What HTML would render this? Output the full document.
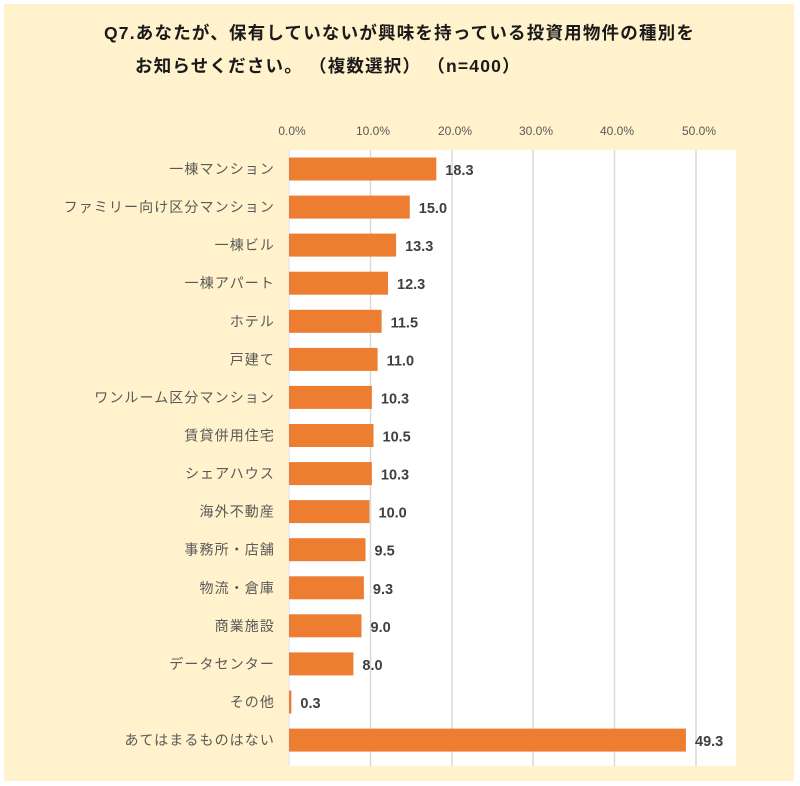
<!DOCTYPE html>
<html><head><meta charset="utf-8"><style>
body{margin:0;background:#fff;}
</style></head><body>
<svg width="800" height="781" xmlns="http://www.w3.org/2000/svg" font-family="'Liberation Sans','Noto Sans CJK JP',sans-serif">
<rect x="4" y="4" width="790" height="777" fill="#FFF2CC"/>
<text x="104" y="39" font-size="17.5" font-weight="bold" fill="#1a1a1a" letter-spacing="1.2">Q7.あなたが、保有していないが興味を持っている投資用物件の種別を</text>
<text x="135" y="72" font-size="17.5" font-weight="bold" fill="#1a1a1a" letter-spacing="1.2">お知らせください。 （複数選択） （n=400）</text>
<rect x="288" y="150" width="448" height="616" fill="#fff"/>
<g stroke="#d9d9d9" stroke-width="1.5">
<line x1="370.5" y1="150" x2="370.5" y2="766"/><line x1="452" y1="150" x2="452" y2="766"/><line x1="533" y1="150" x2="533" y2="766"/><line x1="614.5" y1="150" x2="614.5" y2="766"/><line x1="696" y1="150" x2="696" y2="766"/>
</g>
<line x1="289" y1="150" x2="289" y2="766" stroke="#d9d9d9"/>
<g font-size="12" fill="#595959" text-anchor="middle">
<text x="292" y="135">0.0%</text><text x="373" y="135">10.0%</text><text x="455" y="135">20.0%</text><text x="536" y="135">30.0%</text><text x="617" y="135">40.0%</text><text x="699" y="135">50.0%</text>
</g>
<g fill="#ED7D31">
<rect x="289" y="157.5" width="147.3" height="23"/>
<rect x="289" y="195.6" width="120.8" height="23"/>
<rect x="289" y="233.6" width="107.1" height="23"/>
<rect x="289" y="271.7" width="99" height="23"/>
<rect x="289" y="309.8" width="92.6" height="23"/>
<rect x="289" y="347.9" width="88.6" height="23"/>
<rect x="289" y="385.9" width="82.9" height="23"/>
<rect x="289" y="424" width="84.5" height="23"/>
<rect x="289" y="462.1" width="82.9" height="23"/>
<rect x="289" y="500.1" width="80.5" height="23"/>
<rect x="289" y="538.2" width="76.5" height="23"/>
<rect x="289" y="576.3" width="74.9" height="23"/>
<rect x="289" y="614.3" width="72.5" height="23"/>
<rect x="289" y="652.4" width="64.4" height="23"/>
<rect x="289" y="690.5" width="2.4" height="23"/>
<rect x="289" y="728.6" width="396.9" height="23"/>
</g>
<g font-size="14" fill="#595959" text-anchor="end" letter-spacing="1.1">
<text x="275" y="174">一棟マンション</text>
<text x="275" y="212.1">ファミリー向け区分マンション</text>
<text x="275" y="250.1">一棟ビル</text>
<text x="275" y="288.2">一棟アパート</text>
<text x="275" y="326.3">ホテル</text>
<text x="275" y="364.4">戸建て</text>
<text x="275" y="402.4">ワンルーム区分マンション</text>
<text x="275" y="440.5">賃貸併用住宅</text>
<text x="275" y="478.6">シェアハウス</text>
<text x="275" y="516.6">海外不動産</text>
<text x="275" y="554.7">事務所・店舗</text>
<text x="275" y="592.8">物流・倉庫</text>
<text x="275" y="630.8">商業施設</text>
<text x="275" y="668.9">データセンター</text>
<text x="275" y="707">その他</text>
<text x="275" y="745.1">あてはまるものはない</text>
</g>
<g font-size="14.5" font-weight="bold" fill="#404040">
<text x="445.3" y="175">18.3</text>
<text x="418.8" y="213.1">15.0</text>
<text x="405.1" y="251.1">13.3</text>
<text x="397" y="289.2">12.3</text>
<text x="390.6" y="327.3">11.5</text>
<text x="386.6" y="365.4">11.0</text>
<text x="380.9" y="403.4">10.3</text>
<text x="382.5" y="441.5">10.5</text>
<text x="380.9" y="479.6">10.3</text>
<text x="378.5" y="517.6">10.0</text>
<text x="374.5" y="555.7">9.5</text>
<text x="372.9" y="593.8">9.3</text>
<text x="370.5" y="631.8">9.0</text>
<text x="362.4" y="669.9">8.0</text>
<text x="300.4" y="708">0.3</text>
<text x="695" y="746.1">49.3</text>
</g>
</svg>
</body></html>
